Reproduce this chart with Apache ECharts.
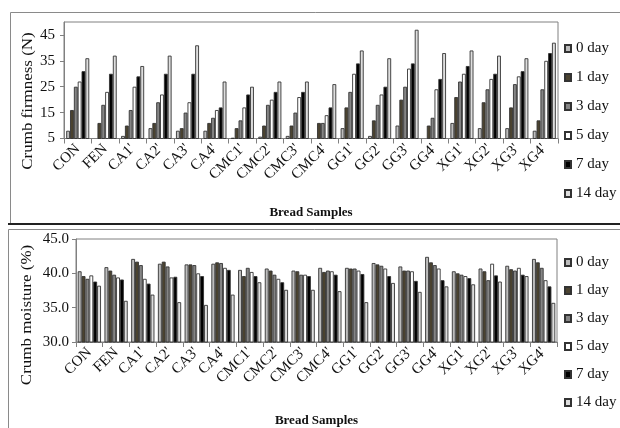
<!DOCTYPE html>
<html>
<head>
<meta charset="utf-8">
<script src="https://cdn.jsdelivr.net/npm/echarts@6/dist/echarts.min.js"></script>
<style>
  html, body { margin: 0; padding: 0; background: #fff; }
  #chart { width: 620px; height: 428px; }
</style>
</head>
<body>
<div id="chart"></div>
<script>
// Bread samples on the category axis
const categories = ["CON", "FEN", "CA1'", "CA2'", "CA3'", "CA4'", "CMC1'", "CMC2'", "CMC3'", "CMC4'",
  "GG1'", "GG2'", "GG3'", "GG4'", "XG1'", "XG2'", "XG3'", "XG4'"];
// Storage days (one bar series per day)
const days = ['0 day', '1 day', '3 day', '5 day', '7 day', '14 day'];

// Crumb firmness (N), one value per sample
const firm0  = [8, 5, 6, 9, 8, 8, 5.3, 5.7, 6, 5, 9, 6, 10, 5, 11, 9, 9, 8];
const firm1  = [16, 11, 10, 11, 9, 11, 9, 10, 10, 11, 17, 12, 20, 10, 21, 19, 17, 12];
const firm3  = [25, 18, 16, 19, 15, 13, 12, 18, 15, 11, 23, 18, 25, 13, 27, 24, 26, 24];
const firm5  = [27, 23, 25, 22, 19, 16, 17, 20, 21, 14, 30, 22, 32, 24, 30, 28, 29, 35];
const firm7  = [31, 30, 29, 30, 30, 17, 22, 23, 23, 17, 34, 25, 34, 28, 33, 30, 31, 38];
const firm14 = [36, 37, 33, 37, 41, 27, 25, 27, 27, 26, 39, 36, 47, 38, 39, 37, 36, 42];

// Crumb moisture (%), one value per sample
const moist0  = [40.3, 40.9, 42.1, 41.4, 41.3, 41.4, 40.5, 40.7, 40.4, 40.8, 40.8, 41.5, 41.0, 42.4, 40.3, 40.7, 41.1, 42.1];
const moist1  = [39.6, 40.4, 41.7, 41.7, 41.3, 41.6, 39.6, 40.4, 40.3, 40.2, 40.7, 41.3, 40.4, 41.6, 40.0, 40.3, 40.6, 41.6];
const moist3  = [39.2, 39.8, 41.2, 41.0, 41.2, 41.5, 40.8, 39.8, 39.8, 40.4, 40.7, 41.1, 40.4, 41.2, 39.8, 39.0, 40.4, 40.8];
const moist5  = [39.7, 39.4, 39.2, 39.4, 40.0, 40.8, 40.2, 39.2, 39.8, 40.3, 40.4, 40.7, 40.3, 40.7, 39.6, 41.4, 40.8, 39.0];
const moist7  = [38.8, 39.1, 38.5, 39.5, 39.6, 40.5, 39.6, 38.7, 39.6, 39.8, 39.9, 39.6, 38.9, 39.0, 39.3, 39.7, 39.8, 38.1];
const moist14 = [38.2, 36.0, 36.9, 35.8, 35.4, 36.9, 38.7, 37.6, 37.6, 37.4, 35.8, 38.6, 37.3, 38.1, 38.4, 38.8, 39.6, 35.7];

// Tick labels
const firmTicks = [5, 15, 25, 35, 45];
const moistTicks = [30, 35, 40, 45];

const firmSeries = [firm0, firm1, firm3, firm5, firm7, firm14];
const moistSeries = [moist0, moist1, moist3, moist5, moist7, moist14];
const fills = ['#bdbdbd', '#4b4330', '#858585', '#ffffff', '#000000', '#dedede'];

const FONT = 'Liberation Serif';
const axisGray = '#808080';

function xAxisFor(gridIndex) {
  return {
    type: 'category', gridIndex, data: categories,
    boundaryGap: true,
    axisLine: { lineStyle: { color: axisGray, width: 1 } },
    axisTick: { show: true, alignWithLabel: false, length: 5, lineStyle: { color: axisGray } },
    axisLabel: { interval: 0, rotate: 45, margin: 8, fontFamily: FONT, fontSize: 15, color: '#111' },
    name: 'Bread Samples', nameLocation: 'middle', nameGap: gridIndex === 0 ? 68 : 72,
    nameTextStyle: { fontFamily: FONT, fontSize: 13, fontWeight: 'bold', color: '#111' }
  };
}

const series = [];
days.forEach((d, i) => {
  series.push({
    name: d, type: 'bar', xAxisIndex: 0, yAxisIndex: 0, data: firmSeries[i],
    barGap: '0%', barCategoryGap: '16%',
    itemStyle: { color: fills[i], borderColor: '#333', borderWidth: 0.9 }
  });
});
days.forEach((d, i) => {
  series.push({
    name: d, type: 'bar', xAxisIndex: 1, yAxisIndex: 1, data: moistSeries[i],
    barGap: '0%', barCategoryGap: '13%',
    itemStyle: { color: fills[i], borderColor: '#333', borderWidth: 0.9 }
  });
});

function legendAt(top, gap) {
  return {
    orient: 'vertical', left: 564, top, padding: 0, itemWidth: 6, itemHeight: 7, itemGap: gap,
    icon: 'rect', data: days,
    textStyle: { fontFamily: FONT, fontSize: 15, color: '#111' }
  };
}

function axisTitle(text, x, y) {
  // rotated title, stretched slightly along its length
  return {
    type: 'text', x, y, rotation: Math.PI / 2, scaleX: 1.13, scaleY: 1,
    style: { text, font: '15px "Liberation Serif"', fill: '#111', align: 'center', verticalAlign: 'middle' }
  };
}

const chart = echarts.init(document.getElementById('chart'), null, { renderer: 'canvas' });
chart.setOption({
  animation: false,
  backgroundColor: '#ffffff',
  grid: [
    { left: 64, top: 22, right: 62, bottom: 289.5, show: true, borderColor: axisGray, borderWidth: 1 },
    { left: 76, top: 239, right: 63, bottom: 79.7, show: true, borderColor: axisGray, borderWidth: 1 }
  ],
  xAxis: [xAxisFor(0), xAxisFor(1)],
  yAxis: [
    {
      type: 'value', gridIndex: 0, min: 5, max: 50, interval: 5,
      splitLine: { show: false },
      axisLine: { show: true, lineStyle: { color: axisGray } },
      axisTick: { show: true, length: 4, customValues: firmTicks, lineStyle: { color: axisGray } },
      axisLabel: { customValues: firmTicks, margin: 9, fontFamily: FONT, fontSize: 15, color: '#111' }
    },
    {
      type: 'value', gridIndex: 1, min: 30, max: 45, interval: 5,
      splitLine: { show: false },
      axisLine: { show: true, lineStyle: { color: axisGray } },
      axisTick: { show: true, length: 4, customValues: moistTicks, lineStyle: { color: axisGray } },
      axisLabel: {
        customValues: moistTicks, margin: 7, fontFamily: FONT, fontSize: 15, color: '#111',
        formatter: v => v.toFixed(1)
      }
    }
  ],
  legend: [legendAt(41, 14), legendAt(255, 13)],
  graphic: [
    // panel frames
    { type: 'line', shape: { x1: 10.5, y1: 12.5, x2: 620, y2: 12.5 }, style: { stroke: '#8a8a8a', lineWidth: 1 } },
    { type: 'line', shape: { x1: 10.5, y1: 12.5, x2: 10.5, y2: 224 }, style: { stroke: '#8a8a8a', lineWidth: 1 } },
    { type: 'line', shape: { x1: 8, y1: 224, x2: 620, y2: 224 }, style: { stroke: '#222', lineWidth: 2 } },
    { type: 'line', shape: { x1: 8.5, y1: 229.5, x2: 620, y2: 229.5 }, style: { stroke: '#8a8a8a', lineWidth: 1 } },
    { type: 'line', shape: { x1: 8.5, y1: 229.5, x2: 8.5, y2: 428 }, style: { stroke: '#8a8a8a', lineWidth: 1 } },
    // value-axis titles
    axisTitle('Crumb firmness (N)', 28, 101),
    axisTitle('Crumb moisture (%)', 27, 315)
  ],
  series
});
</script>
</body>
</html>
